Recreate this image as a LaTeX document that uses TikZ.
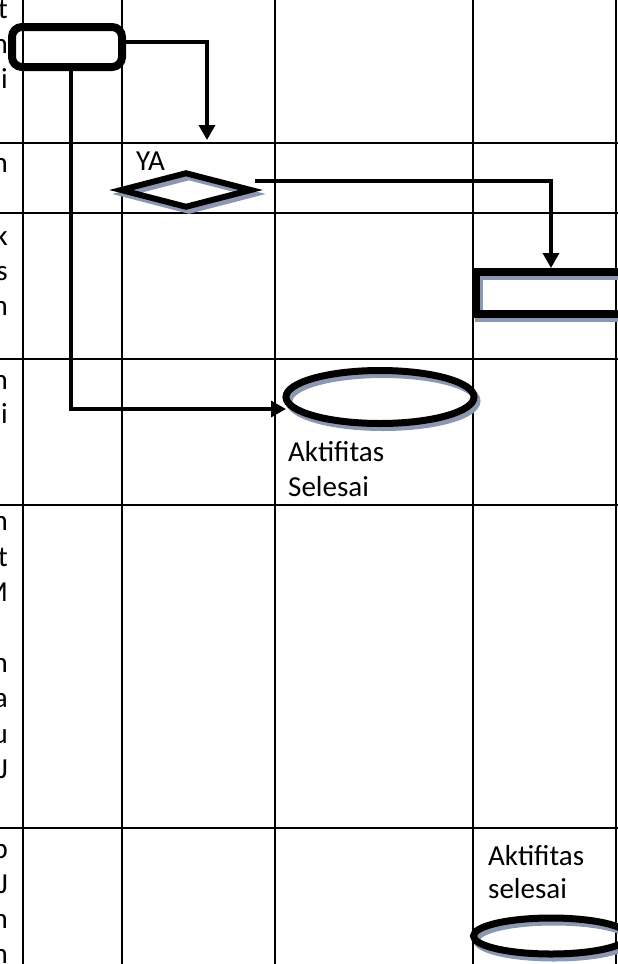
\documentclass[tikz,border=0pt]{standalone}
\usepackage{fontspec}
\setmainfont{Carlito}
\usetikzlibrary{shapes.geometric, shadows, arrows.meta}
\definecolor{shadowblue}{RGB}{140,152,178}

\begin{document}
\begin{tikzpicture}[x=1pt, y=-1pt,
    lane/.style={line width=2.4pt},
    flow/.style={line width=3.4pt, -{Triangle[width=16pt,length=15pt]}},
    boxshadow/.style={drop shadow={shadow xshift=3pt, shadow yshift=-4pt, opacity=1, fill=none, draw=shadowblue, line width=#1}},
    label/.style={font=\fontsize{29}{35}\selectfont, inner sep=0pt}]
    \useasboundingbox (0,0) rectangle (618,964);
    % lanes
    \foreach \x in {23,122,275,473,616}
        \draw [lane] (\x,0) -- (\x,964);
    \foreach \y in {143,213,359,505,828}
        \draw [lane] (0,\y) -- (618,\y);
    % first column (cut off)
    \foreach \sidechar/\y [count=\i] in {t/18, n/53, i/88, n/172, k/245, s/280, n/315, n/389, i/423, n/530, t/566, M/601, n/672, a/707, u/743, J/778, p/858, J/893, n/928, n/963}
        \node [label, anchor=base east] (side\i) at (8,\y) {\sidechar};
    % shapes
    \node [draw, line width=8pt, rounded corners=10pt, minimum width=110pt, minimum height=40pt] (start) at (67,47) {};
    \node [draw, diamond, line width=6pt, inner sep=0pt, minimum width=132pt, minimum height=36pt, boxshadow=6pt] (ya) at (186,190) {};
    \node [label, anchor=base west] (yaText) at (136,170) {YA};
    \node [draw, line width=8pt, minimum width=151pt, minimum height=42pt, boxshadow=8pt] (task) at (551,293) {};
    \node [draw, ellipse, line width=7pt, minimum width=188pt, minimum height=53pt, boxshadow=7pt] (done) at (380,397) {};
    \node [label, anchor=base west] (doneA) at (288,461) {Aktifitas};
    \node [label, anchor=base west] (doneB) at (288,496) {Selesai};
    \node [label, anchor=base west] (finA) at (488,865) {Aktifitas};
    \node [label, anchor=base west] (finB) at (488,898) {selesai};
    \node [draw, ellipse, line width=7pt, minimum width=155pt, minimum height=36pt, boxshadow=7pt] (finish) at (551,936) {};
    % connectors
    \coordinate (toYa) at (207,140);
    \coordinate (toDone) at (286,409);
    \coordinate (yaOut) at (255,181);
    \draw [flow] ([yshift=5pt]start.east) -| (toYa);
    \draw [flow] ([xshift=4pt]start.south) |- (toDone);
    \draw [flow] (yaOut) -| (task.north);
\end{tikzpicture}
\end{document}
